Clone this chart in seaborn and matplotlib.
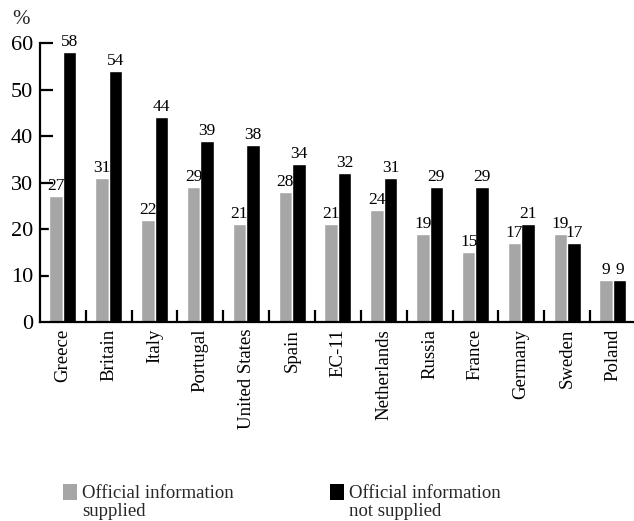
import matplotlib
matplotlib.use("Agg")
import matplotlib.pyplot as plt
from matplotlib.patches import Rectangle
from matplotlib.ticker import FixedLocator
import numpy as np
import pandas as pd
import seaborn as sns

countries = ["Greece", "Britain", "Italy", "Portugal", "United States", "Spain",
             "EC-11", "Netherlands", "Russia", "France", "Germany", "Sweden", "Poland"]
supplied = [27, 31, 22, 29, 21, 28, 21, 24, 19, 15, 17, 19, 9]
not_supplied = [58, 54, 44, 39, 38, 34, 32, 31, 29, 29, 21, 17, 9]
series_names = ["Official information supplied", "Official information not supplied"]
y_ticks = [0, 10, 20, 30, 40, 50, 60]

GREY = "#a6a6a6"
BLACK = "#000000"

df = pd.DataFrame({
    "country": countries * 2,
    "value": supplied + not_supplied,
    "series": [series_names[0]] * len(countries) + [series_names[1]] * len(countries),
})

sns.set_theme(style="white")
plt.rcParams["font.family"] = ["Liberation Serif", "DejaVu Serif"]

W, H = 634, 521
fig = plt.figure(figsize=(W / 100, H / 100), dpi=100)
x0, x1 = 40, 634
y_top, y_bot = 43, 322
ax = fig.add_axes([x0 / W, (H - y_bot) / H, (x1 - x0) / W, (y_bot - y_top) / H])

sns.barplot(data=df, x="country", y="value", hue="series", order=countries,
            hue_order=series_names, palette=[GREY, BLACK], width=0.59,
            saturation=1, legend=False, ax=ax)

for cont in ax.containers:
    ax.bar_label(cont, fmt="%d", fontsize=12.5, padding=1.5, color="black")

ax.set_xlim(-0.5, 12.46)
ax.set_ylim(0, 60)
ax.set_yticks(y_ticks)
ax.set_xlabel("")
ax.set_ylabel("")

for side in ("top", "right"):
    ax.spines[side].set_visible(False)
for side in ("left", "bottom"):
    ax.spines[side].set_linewidth(1.6)
    ax.spines[side].set_color("black")

ax.tick_params(axis="y", direction="in", length=9, width=1.6, labelsize=16,
               pad=5, colors="black", left=True)
ax.tick_params(axis="x", which="major", length=0, labelsize=13.5, pad=5,
               labelrotation=90, colors="black", bottom=True)
ax.xaxis.set_minor_locator(FixedLocator(np.arange(0.5, 12, 1.0)))
ax.tick_params(axis="x", which="minor", direction="in", length=9, width=1.6,
               color="black", bottom=True)
ax.yaxis.get_major_ticks()[0].tick1line.set_visible(False)
ax.grid(False)

fig.text(21 / W, (H - 20) / H, "%", fontsize=15, ha="center", va="center")

# legend drawn by hand: swatch plus two-line caption
def legend_entry(xs, color, line1, line2):
    fig.add_artist(Rectangle((xs / W, (H - 500) / H), 14 / W, 16 / H,
                             transform=fig.transFigure, facecolor=color,
                             edgecolor="none"))
    fig.text((xs + 19) / W, (H - 498) / H, line1, fontsize=13.5,
             ha="left", va="baseline")
    fig.text((xs + 19) / W, (H - 516) / H, line2, fontsize=13.5,
             ha="left", va="baseline")

legend_entry(63, GREY, "Official information", "supplied")
legend_entry(330, BLACK, "Official information", "not supplied")

fig.savefig("out.png", dpi=100, facecolor="white")
